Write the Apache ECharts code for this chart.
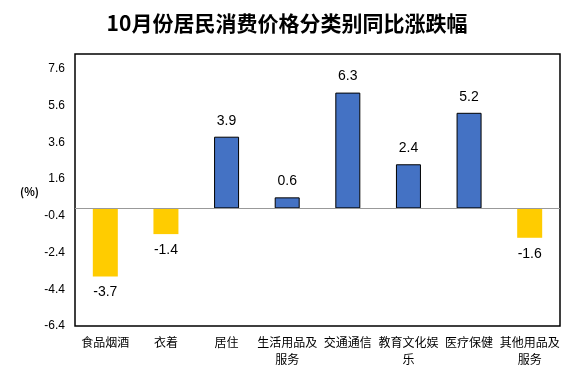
<!DOCTYPE html>
<html><head><meta charset="utf-8">
<script src="https://cdn.jsdelivr.net/npm/echarts@6/dist/echarts.min.js"></script>
<style>html,body{margin:0;padding:0;background:#fff}#c{width:574px;height:374px}</style>
</head><body><div id="c"></div>
<script>
const titleText = '10月份居民消费价格分类别同比涨跌幅';
const categories = ['食品烟酒','衣着','居住','生活用品及\n服务','交通通信','教育文化娱\n乐','医疗保健','其他用品及\n服务'];
const values = [-3.7, -1.4, 3.9, 0.6, 6.3, 2.4, 5.2, -1.6];
const yMin = -6.4, yMax = 8.4, yStep = 2;
const unitLabel = '(%)';

const chart = echarts.init(document.getElementById('c'), null, {renderer:'canvas'});
const FONT = '"Noto Sans CJK SC", "Liberation Sans", sans-serif';
chart.setOption({
  animation:false,
  title:{text:titleText,left:'center',top:8,textStyle:{fontFamily:FONT,fontSize:21,fontWeight:'bold',color:'#000'}},
  grid:{left:75,right:14,top:54,bottom:48,show:true,borderColor:'#000',borderWidth:1.5,backgroundColor:'transparent'},
  graphic:[{type:'text',left:20,top:186,style:{text:unitLabel,font:'bold 11px '+FONT,fill:'#000'}}],
  xAxis:{type:'category',data:categories,axisLine:{show:false,onZero:false},axisTick:{show:false},
    axisLabel:{interval:0,color:'#000',fontSize:12,fontFamily:FONT,margin:8,lineHeight:17}},
  yAxis:{type:'value',min:yMin,max:yMax,interval:yStep,splitLine:{show:false},axisLine:{show:false},axisTick:{show:false},
    axisLabel:{showMaxLabel:false,color:'#000',fontSize:12,fontFamily:'"Liberation Sans", sans-serif',margin:10,
      formatter:v=>v.toFixed(1)}},
  series:[{type:'bar',barWidth:25,
    data:values.map(v=>({value:v,itemStyle:v>=0?{color:'#4472C4',borderColor:'#000',borderWidth:1}:{color:'#FFCC00'}})),
    label:{show:true,position:'outside',formatter:p=>p.value.toFixed(1),fontSize:14,color:'#000',fontFamily:'"Liberation Sans", sans-serif',distance:9},
    markLine:{silent:true,symbol:'none',label:{show:false},lineStyle:{color:'#999',type:'solid',width:1},data:[{yAxis:0}]}
  }]
});
</script></body></html>
